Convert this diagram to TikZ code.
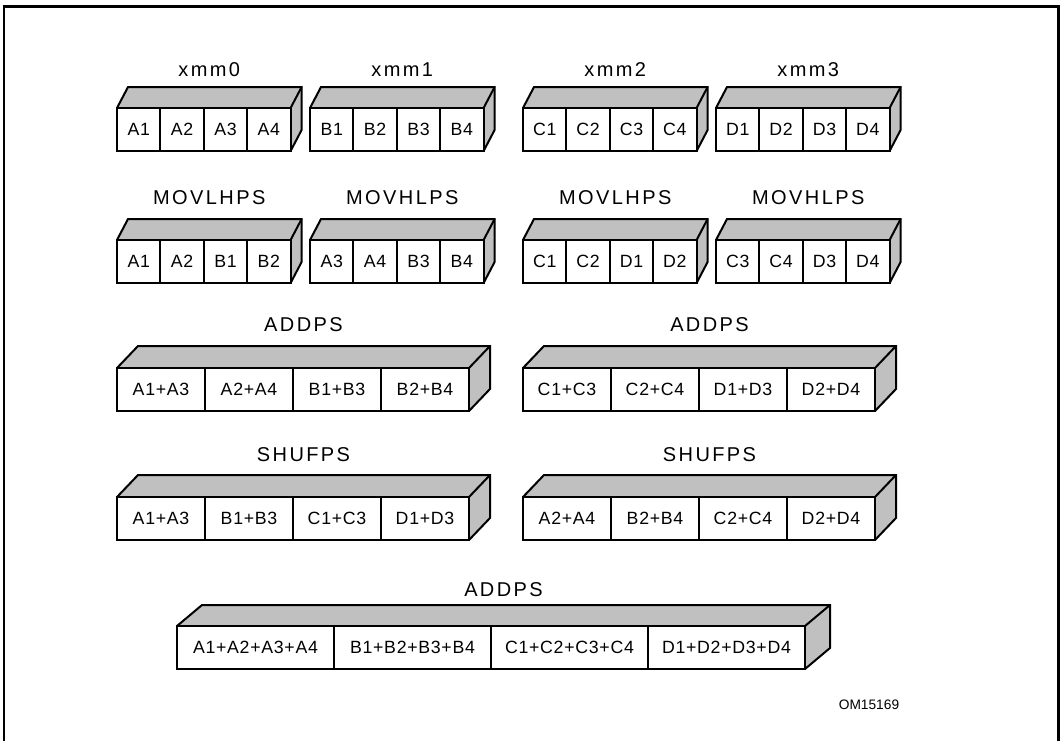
\documentclass[tikz,border=0pt]{standalone}
\usepackage{fontspec}
\setmainfont{Liberation Sans}
\newfontfamily\cellfont[LetterSpace=4]{Liberation Sans}
\newfontfamily\labelfont[LetterSpace=12]{Liberation Sans}
\definecolor{regface}{RGB}{192,192,192}
\tikzset{
  boxline/.style={line width=1.5pt,line join=miter},
  cell/.style={draw,line width=1.5pt,fill=white,minimum height=43*0.75pt,inner sep=0pt,outer sep=0pt,
    font=\cellfont\fontsize{13.3pt}{15pt}\selectfont},
  reglabel/.style={font=\labelfont\fontsize{15pt}{18pt}\selectfont}
}
% #1 name, #2 left, #3 front top, #4 cell width, #5/#6 depth, #7 label y, #8 label, #9 cells
\newcommand{\regbox}[9]{%
  \fill[regface] (#2,#3) -- ++(#5,-#6) -- ++(4*#4,0) -- ++(0,43) -- ++(-#5,#6) -- ++(0,-43) -- cycle;
  \draw[boxline] (#2,#3) -- ++(#5,-#6) -- ++(4*#4,0) -- ++(0,43) -- ++(-#5,#6);
  \draw[boxline] (#2+4*#4,#3) -- ++(#5,-#6);
  \foreach \c [count=\i] in {#9}
    \node[cell,minimum width={#4*0.75pt}] (#1-\i) at (#2+\i*#4-#4/2,#3+21.5) {\c};
  \node[reglabel] (#1-label) at (#2+2*#4+#5/2,#7) {#8};
}

\begin{document}
\begin{tikzpicture}[x=0.75pt,y=-0.75pt]
  \useasboundingbox (0,0) rectangle (1061,740);
  \clip (0,0) rectangle (1061,740);
  \draw[line width=2.2pt] (4,760) -- (4,6.5) -- (1058.5,6.5) -- (1058.5,760);

  % source registers
  \regbox{xmmA}{117}{108}{43.4}{11}{21}{70}{xmm0}{A1,A2,A3,A4}
  \regbox{xmmB}{310}{108}{43.4}{11}{21}{70}{xmm1}{B1,B2,B3,B4}
  \regbox{xmmC}{523}{108}{43.4}{11}{21}{70}{xmm2}{C1,C2,C3,C4}
  \regbox{xmmD}{716}{108}{43.4}{11}{21}{70}{xmm3}{D1,D2,D3,D4}

  % moves
  \regbox{lhA}{117}{240}{43.4}{11}{21}{198}{MOVLHPS}{A1,A2,B1,B2}
  \regbox{hlA}{310}{240}{43.4}{11}{21}{198}{MOVHLPS}{A3,A4,B3,B4}
  \regbox{lhC}{523}{240}{43.4}{11}{21}{198}{MOVLHPS}{C1,C2,D1,D2}
  \regbox{hlC}{716}{240}{43.4}{11}{21}{198}{MOVHLPS}{C3,C4,D3,D4}

  % first add
  \regbox{addA}{117}{368}{88}{21}{22}{325}{ADDPS}{A1+A3,A2+A4,B1+B3,B2+B4}
  \regbox{addC}{523}{368}{88}{21}{22}{325}{ADDPS}{C1+C3,C2+C4,D1+D3,D2+D4}

  % shuffle
  \regbox{shufA}{117}{497}{88}{21}{22}{455}{SHUFPS}{A1+A3,B1+B3,C1+C3,D1+D3}
  \regbox{shufC}{523}{497}{88}{21}{22}{455}{SHUFPS}{A2+A4,B2+B4,C2+C4,D2+D4}

  % final add
  \regbox{sum}{177}{626}{157}{25}{21}{590}{ADDPS}{A1+A2+A3+A4,B1+B2+B3+B4,C1+C2+C3+C4,D1+D2+D3+D4}

  \node[font=\fontsize{10.3pt}{12pt}\selectfont] (figid) at (869,705) {OM15169};
\end{tikzpicture}
\end{document}
